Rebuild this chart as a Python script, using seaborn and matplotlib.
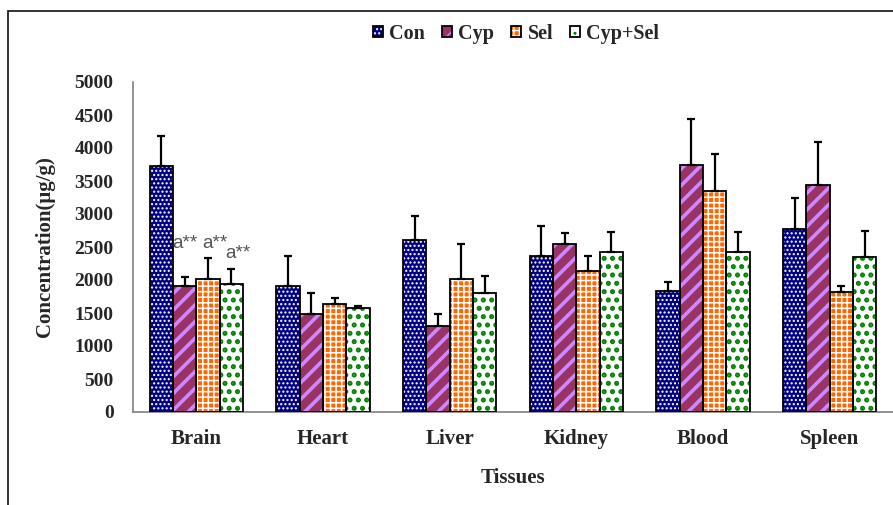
import numpy as np
import pandas as pd
import matplotlib
matplotlib.use("Agg")
import matplotlib.pyplot as plt
from matplotlib.patches import Rectangle, Patch
from matplotlib.legend_handler import HandlerTuple
from matplotlib.ticker import FixedLocator
import seaborn as sns

# Tissue concentrations (mean and SD), µg/g
tissues = ["Brain", "Heart", "Liver", "Kidney", "Blood", "Spleen"]
groups = ["Con", "Cyp", "Sel", "Cyp+Sel"]
con_mean = [3720, 1915, 2600, 2370, 1840, 2775]
cyp_mean = [1915, 1490, 1300, 2540, 3740, 3445]
sel_mean = [2010, 1640, 2015, 2130, 3350, 1815]
cypsel_mean = [1945, 1580, 1800, 2420, 2420, 2355]
con_sd = [455, 455, 370, 445, 125, 465]
cyp_sd = [125, 320, 185, 175, 700, 640]
sel_sd = [330, 80, 525, 240, 565, 90]
cypsel_sd = [215, 30, 265, 305, 305, 385]
sig_labels = ["a**", "a**", "a**"]

means = [con_mean, cyp_mean, sel_mean, cypsel_mean]
sds = [con_sd, cyp_sd, sel_sd, cypsel_sd]

face_colors = ["#000080", "#993366", "#FF6600", "#FFFFFF"]
hatch_colors = ["#FFFFFF", "#CC88FF", "#FFFFFF", "#008000"]
hatches = ["....", "//", "+++", ".."]
hatch_lw = [1.0, 2.6, 1.1, 2.4]

df = pd.DataFrame({
    "Tissue": np.repeat(tissues, len(groups)),
    "Group": groups * len(tissues),
    "Value": np.array(means).T.ravel(),
})

sns.set_style("white")
plt.rcParams["font.family"] = ["Liberation Serif", "DejaVu Serif"]
plt.rcParams["font.weight"] = "bold"

fig = plt.figure(figsize=(8.93, 5.05), dpi=100)
ax = fig.add_axes([133 / 893, 1 - 412 / 505, 1 - 133 / 893, (412 - 82) / 505])

sns.barplot(data=df, x="Tissue", y="Value", hue="Group", order=tissues,
            hue_order=groups, palette=face_colors, width=0.735,
            errorbar=None, legend=False, ax=ax, saturation=1)

bar_containers = list(ax.containers)
for gi, cont in enumerate(bar_containers):
    for ti, bar in enumerate(cont.patches):
        bar.set_hatch(hatches[gi])
        bar.set_edgecolor(hatch_colors[gi])
        bar.set_linewidth(0)
        if hasattr(bar, "set_hatch_linewidth"):
            bar.set_hatch_linewidth(hatch_lw[gi])
        x0, w, h = bar.get_x(), bar.get_width(), bar.get_height()
        ax.add_patch(Rectangle((x0, 0), w, h, fill=False,
                               edgecolor="black", lw=1.3, zorder=3))
        ax.errorbar(x0 + w / 2, h, yerr=[[0], [sds[gi][ti]]], fmt="none",
                    ecolor="black", elinewidth=1.6, capsize=2.8,
                    capthick=1.6, zorder=2)

# significance marks over the Brain treatment groups
sig_pos = [(-0.093, 2555), (0.144, 2555), (0.325, 2400)]
for (xp, yp), lab in zip(sig_pos, sig_labels):
    ax.text(xp, yp, lab, ha="center", va="center", fontsize=13.5,
            color="#555555", family="Liberation Sans", weight="normal")

ax.set_xlim(-0.5, len(tissues) - 0.5)
ax.set_ylim(0, 5000)
ax.set_yticks(np.arange(0, 5001, 500))
ax.xaxis.set_minor_locator(FixedLocator(np.arange(0.5, len(tissues) - 0.5, 1)))
ax.tick_params(axis="y", direction="in", length=6, width=1, color="#808080",
               pad=14, labelsize=14)
ax.tick_params(axis="x", which="major", length=0, pad=12, labelsize=15)
ax.tick_params(axis="x", which="minor", direction="in", length=5, width=1,
               color="#808080")
for lab in ax.get_xticklabels() + ax.get_yticklabels():
    lab.set_fontweight("bold")

for side in ["top", "right"]:
    ax.spines[side].set_visible(False)
for side in ["left", "bottom"]:
    ax.spines[side].set_color("#808080")
    ax.spines[side].set_linewidth(1.2)

ax.set_xlabel("Tissues", fontsize=15, fontweight="bold", labelpad=14)
ax.set_ylabel("Concentration(μg/g)", fontsize=15, fontweight="bold",
              labelpad=14)

handles = []
for gi in range(len(groups)):
    hp = Patch(facecolor=face_colors[gi], edgecolor=hatch_colors[gi],
               hatch=hatches[gi], lw=0)
    op = Patch(facecolor="none", edgecolor="black", lw=1.3)
    handles.append((hp, op))
fig.legend(handles, groups, loc="center", bbox_to_anchor=(0.578, 0.933),
           ncol=4, frameon=False, handlelength=0.5, handleheight=0.5,
           handletextpad=0.3, columnspacing=0.85,
           handler_map={tuple: HandlerTuple(ndivide=1, pad=0)},
           prop={"family": "Liberation Serif", "weight": "bold", "size": 14.5})

# outer frame around the figure
fig.patches.append(Rectangle((8 / 893, -0.1), 1.2, 1 - 11 / 505 + 0.1,
                             transform=fig.transFigure, fill=False,
                             edgecolor="#222222", lw=1.3, zorder=0))

fig.savefig("out.png", dpi=100)
